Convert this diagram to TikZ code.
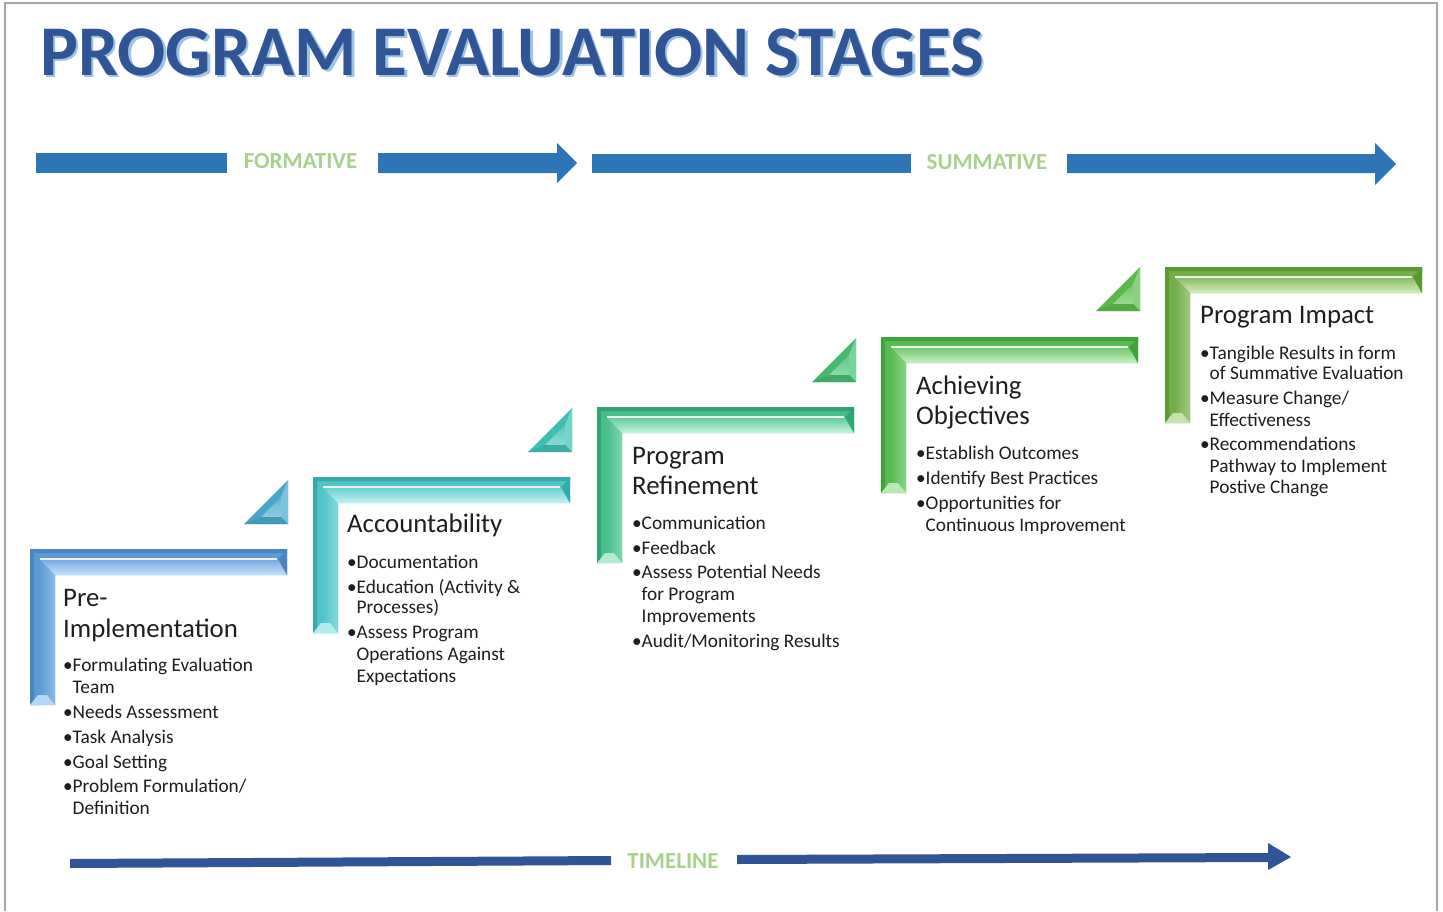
\documentclass[tikz,border=0pt]{standalone}
\usepackage{fontspec}
\setmainfont{Carlito}
\definecolor{arrowblue}{HTML}{2E75B6}
\definecolor{timeblue}{HTML}{2F5597}
\definecolor{labelgreen}{HTML}{A9D18E}
\definecolor{titleblue}{HTML}{2F5597}
\definecolor{titleshadow}{HTML}{9DC3E6}
\definecolor{framegray}{HTML}{A6A6A6}
\definecolor{inkgray}{HTML}{1E1E1E}
% stage colours: base / dark / light
\definecolor{sAbase}{HTML}{5D9AD6}\definecolor{sAdark}{HTML}{4A84C2}\definecolor{sAlight}{HTML}{C4E2F8}
\definecolor{sBbase}{HTML}{4FC5C8}\definecolor{sBdark}{HTML}{35AAAE}\definecolor{sBlight}{HTML}{C2F3F3}
\definecolor{sCbase}{HTML}{47BE8C}\definecolor{sCdark}{HTML}{31A375}\definecolor{sClight}{HTML}{C6F3DE}
\definecolor{sDbase}{HTML}{55BB4F}\definecolor{sDdark}{HTML}{3EA339}\definecolor{sDlight}{HTML}{CBF1C5}
\definecolor{sEbase}{HTML}{72AE48}\definecolor{sEdark}{HTML}{5B9834}\definecolor{sElight}{HTML}{D5EDC0}
\definecolor{tAbase}{HTML}{4AA5C8}\definecolor{tAlight}{HTML}{B9E6F3}
\definecolor{tBbase}{HTML}{3FBDB0}\definecolor{tBlight}{HTML}{B8F0E8}
\definecolor{tCbase}{HTML}{44B96E}\definecolor{tClight}{HTML}{BDEFCD}
\definecolor{tDbase}{HTML}{5BB84A}\definecolor{tDlight}{HTML}{C6EEBD}

% bevelled L-shaped frame: x0, y0, base, dark, light
\newcommand\stageframe[5]{%
  \fill[#3] (#1,#2) -- (#1+257,#2) -- (#1+257,#2+26) -- (#1+25,#2+26)
        -- (#1+25,#2+156) -- (#1,#2+156) -- cycle;
  \fill[#4] (#1,#2) -- (#1+257,#2) -- (#1+257,#2+4) -- (#1+4,#2+4) -- (#1+4,#2+156) -- (#1,#2+156) -- cycle;
  % lower face of the top bar
  \shade[top color=#3!80!#5, bottom color=#5]
    (#1+9,#2+10) -- (#1+248,#2+10) -- (#1+257,#2+26) -- (#1+25,#2+26) -- cycle;
  % end face of the top bar
  \fill[#4] (#1+248,#2+10) -- (#1+257,#2+1) -- (#1+257,#2+26) -- cycle;
  % inner face of the left bar
  \shade[left color=#3, right color=#3!55!#5]
    (#1+9,#2+10) -- (#1+25,#2+26) -- (#1+25,#2+156) -- (#1+17,#2+146) -- (#1+9,#2+146) -- cycle;
  % bottom face of the left bar
  \fill[#5!85!#3] (#1,#2+156) -- (#1+8,#2+146) -- (#1+17,#2+146) -- (#1+25,#2+156) -- cycle;
  \draw[white, opacity=.85, line width=1.4pt] (#1+10,#2+10) -- (#1+247,#2+10);
}
% bevelled corner triangle: x of right edge, y of bottom edge, base, light
\newcommand\stagetri[4]{%
  \fill[#3] (#1-44,#2) -- (#1,#2-44) -- (#1,#2) -- cycle;
  \shade[top color=#3!75!#4, bottom color=#3!40!#4]
    (#1-27,#2-7) -- (#1-7,#2-27) -- (#1-7,#2-7) -- cycle;
  \fill[#3!55!#4] (#1-7,#2-27) -- (#1,#2-44) -- (#1,#2) -- (#1-7,#2-7) -- cycle;
  \fill[#3!92!black] (#1-44,#2) -- (#1-27,#2-7) -- (#1-7,#2-7) -- (#1,#2) -- cycle;
}

\begin{document}
\begin{tikzpicture}[x=1pt, y=-1pt,
  ttl/.style={font=\fontsize{26.8}{30}\selectfont, text=inkgray, inner sep=0pt, anchor=base west},
  bl/.style={font=\fontsize{19.3}{22}\selectfont, text=inkgray, inner sep=0pt, anchor=base west},
  phase/.style={font=\fontsize{23}{26}\selectfont\bfseries, text=labelgreen, inner sep=0pt},
  bigarrow/.style={fill=arrowblue},
  timearrow/.style={fill=timeblue}]
\useasboundingbox (0,0) rectangle (1443,911);

% page frame
\draw[framegray, line width=2pt] (5,911) -- (5,3) -- (1437,3) -- (1437,911);

% heading with its soft shadow
\node[anchor=base west, inner sep=0pt, text=titleshadow,
      font=\fontsize{71.3}{80}\selectfont\bfseries] (headshadow) at (42.5,77.5) {PROGRAM EVALUATION STAGES};
\node[anchor=base west, inner sep=0pt, text=titleblue,
      font=\fontsize{71.3}{80}\selectfont\bfseries] (heading) at (40,75) {PROGRAM EVALUATION STAGES};

% formative / summative arrows
\node[phase] (formative) at (300.5,161) {FORMATIVE};
\node[phase] (summative) at (987,162) {SUMMATIVE};
\fill[bigarrow] (36,153) rectangle (227,173);
\fill[bigarrow] (378,153) -- (557,153) -- (557,143) -- (577,163) -- (557,183) -- (557,173) -- (378,173) -- cycle;
\fill[bigarrow] (592,154) rectangle (911,173);
\fill[bigarrow] (1067,154) -- (1375,154) -- (1375,143) -- (1396,164) -- (1375,185) -- (1375,173) -- (1067,173) -- cycle;

% timeline
\node[phase] (timeline) at (673,861) {TIMELINE};
\fill[timearrow] (70,859) -- (611,856) -- (611,865) -- (70,868) -- cycle;
\fill[timearrow] (737,855) -- (1268,853) -- (1268,843) -- (1291,857) -- (1268,870) -- (1268,862) -- (737,864) -- cycle;

% stage frames and step triangles
\stageframe{30}{549}{sAbase}{sAdark}{sAlight}
\stageframe{313}{477}{sBbase}{sBdark}{sBlight}
\stageframe{597}{407}{sCbase}{sCdark}{sClight}
\stageframe{881}{337}{sDbase}{sDdark}{sDlight}
\stageframe{1165}{267}{sEbase}{sEdark}{sElight}
\stagetri{288}{524}{tAbase}{tAlight}
\stagetri{572}{452}{tBbase}{tBlight}
\stagetri{856}{382}{tCbase}{tClight}
\stagetri{1140}{311}{tDbase}{tDlight}

% stage 1
\node[ttl] (s1t1) at (63,606) {Pre-};
\node[ttl] (s1t2) at (63,637) {Implementation};
\node[bl] (s1b1) at (63,671) {\makebox[9.5pt][l]{•}Formulating Evaluation};
\node[bl] (s1b1c) at (72.5,693) {Team};
\node[bl] (s1b2) at (63,718) {\makebox[9.5pt][l]{•}Needs Assessment};
\node[bl] (s1b3) at (63,743) {\makebox[9.5pt][l]{•}Task Analysis};
\node[bl] (s1b4) at (63,768) {\makebox[9.5pt][l]{•}Goal Setting};
\node[bl] (s1b5) at (63,792) {\makebox[9.5pt][l]{•}Problem Formulation/};
\node[bl] (s1b5c) at (72.5,814) {Definition};

% stage 2
\node[ttl] (s2t1) at (347,532) {Accountability};
\node[bl] (s2b1) at (347,568) {\makebox[9.5pt][l]{•}Documentation};
\node[bl] (s2b2) at (347,593) {\makebox[9.5pt][l]{•}Education (Activity \&};
\node[bl] (s2b2c) at (356.5,613) {Processes)};
\node[bl] (s2b3) at (347,638) {\makebox[9.5pt][l]{•}Assess Program};
\node[bl] (s2b3c) at (356.5,660) {Operations Against};
\node[bl] (s2b3d) at (356.5,682) {Expectations};

% stage 3
\node[ttl] (s3t1) at (632,464) {Program};
\node[ttl] (s3t2) at (632,494) {Refinement};
\node[bl] (s3b1) at (632,529) {\makebox[9.5pt][l]{•}Communication};
\node[bl] (s3b2) at (632,554) {\makebox[9.5pt][l]{•}Feedback};
\node[bl] (s3b3) at (632,578) {\makebox[9.5pt][l]{•}Assess Potential Needs};
\node[bl] (s3b3c) at (641.5,600) {for Program};
\node[bl] (s3b3d) at (641.5,622) {Improvements};
\node[bl] (s3b4) at (632,647) {\makebox[9.5pt][l]{•}Audit/Monitoring Results};

% stage 4
\node[ttl] (s4t1) at (916,394) {Achieving};
\node[ttl] (s4t2) at (916,424) {Objectives};
\node[bl] (s4b1) at (916,459) {\makebox[9.5pt][l]{•}Establish Outcomes};
\node[bl] (s4b2) at (916,484) {\makebox[9.5pt][l]{•}Identify Best Practices};
\node[bl] (s4b3) at (916,509) {\makebox[9.5pt][l]{•}Opportunities for};
\node[bl] (s4b3c) at (925.5,531) {Continuous Improvement};

% stage 5
\node[ttl] (s5t1) at (1200,323) {Program Impact};
\node[bl] (s5b1) at (1200,359) {\makebox[9.5pt][l]{•}Tangible Results in form};
\node[bl] (s5b1c) at (1209.5,379) {of Summative Evaluation};
\node[bl] (s5b2) at (1200,404) {\makebox[9.5pt][l]{•}Measure Change/};
\node[bl] (s5b2c) at (1209.5,426) {Effectiveness};
\node[bl] (s5b3) at (1200,450) {\makebox[9.5pt][l]{•}Recommendations};
\node[bl] (s5b3c) at (1209.5,472) {Pathway to Implement};
\node[bl] (s5b3d) at (1209.5,493) {Postive Change};
\end{tikzpicture}
\end{document}
